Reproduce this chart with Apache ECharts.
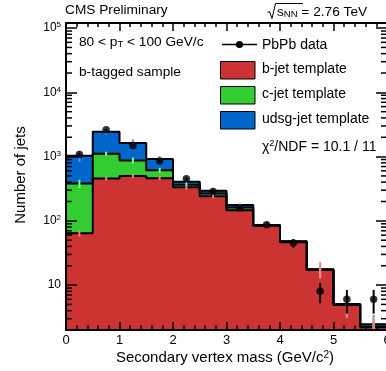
<!DOCTYPE html>
<html style="height: 100%">
<head>
    <meta charset="utf-8">
    <script src="https://cdn.jsdelivr.net/npm/echarts@6/dist/echarts.min.js"></script>
</head>
<body style="height: 100%; margin: 0; background: #fff">
    <div id="main" style="width: 386px; height: 371px"></div>
    <script type="text/javascript">
        // bins: lower edges, width 0.5 GeV/c^2
        var binLow = [0, 0.5, 1, 1.5, 2, 2.5, 3, 3.5, 4, 4.5, 5, 5.5];
        var binWidth = 0.5;

        // template contributions (stacked: b, then c, then udsg)
        var bJet    = [64, 456, 498, 462, 332, 242, 146, 84, 46.5, 17.2, 4.9, 2.2];
        var cJet    = [316, 654, 375, 149, 34, 24, 15, 1, 1, 0.3, 0.1, 0.05];
        var udsgJet = [653, 1327, 749, 303, 41, 29, 16, 0.8, 0.5, 0.2, 0.07, 0.2];

        // template uncertainties
        var bErr    = [7, 30, 35, 30, 25, 18, 9, 6, 3, 4.5, 1.8, 0.9];
        var cErr    = [55, 80, 95, 55, 22, 12, 6, 5, 3, 4.5, 1.8, 0.9];
        var udsgErr = [200, 250, 230, 100, 30, 18, 10, 5, 3, 5, 2, 1];

        // PbPb data
        var dataVal = [1080, 2618, 1490, 851, 450, 287, 157, 87, 45, 8, 6, 6];
        var dataErr = [33, 51, 39, 29, 21, 17, 12.5, 9.3, 6.7, 2.8, 2.4, 2.4];

        var yTickValues = [10, 100, 1000, 10000, 100000];
        var yTickLabels = ['{b|10}', '{b|10}{s|2}', '{b|10}{s|3}', '{b|10}{s|4}', '{b|10}{s|5}'];
        var xTickLabels = ['0', '1', '2', '3', '4', '5', '6'];

        var yMin = 2, yMax = 120000, xMin = 0, xMax = 6;
        var FONT = '"Liberation Sans", Arial, sans-serif';

        var cumB = bJet.slice();
        var cumC = bJet.map(function (v, i) { return v + cJet[i]; });
        var cumU = cumC.map(function (v, i) { return v + udsgJet[i]; });

        // minor ticks on the log axis (2..9 x decade)
        var minorTicks = [];
        [1, 10, 100, 1000, 10000].forEach(function (d) {
            for (var k = 2; k <= 9; k++) {
                var v = k * d;
                if (v > yMin && v < yMax) minorTicks.push([0, v]);
            }
        });

        var myChart = echarts.init(document.getElementById('main'));

        function rectData(top) {
            return binLow.map(function (x, i) { return [x, x + binWidth, top[i]]; });
        }
        function stepData(top) {
            var d = binLow.map(function (x, i) { return [x, top[i]]; });
            d.push([xMax, top[top.length - 1]]);
            return d;
        }
        function errData(top, err) {
            return binLow.map(function (x, i) { return [x + binWidth / 2, top[i], err[i]]; });
        }

        function histRect(color) {
            return function (params, api) {
                var p0 = api.coord([api.value(0), api.value(2)]);
                var p1 = api.coord([api.value(1), yMin]);
                return {
                    type: 'rect',
                    shape: { x: p0[0], y: p0[1], width: p1[0] - p0[0], height: p1[1] - p0[1] },
                    style: { fill: color, stroke: color, lineWidth: 1 }
                };
            };
        }
        function errBar(color, width) {
            return function (params, api) {
                var x = api.value(0), v = api.value(1), e = api.value(2);
                var lo = api.coord([x, Math.max(v - e, yMin)]);
                var hi = api.coord([x, v + e]);
                return {
                    type: 'line',
                    shape: { x1: lo[0], y1: lo[1], x2: hi[0], y2: hi[1] },
                    style: { stroke: color, lineWidth: width }
                };
            };
        }
        function stepLine(top) {
            return {
                type: 'line', step: 'end', data: stepData(top), symbol: 'none', z: 3,
                lineStyle: { color: '#000', width: 2 }, silent: true
            };
        }

        var axisCommon = {
            z: 10,
            axisLine: { show: true, onZero: false, lineStyle: { color: '#000', width: 2 } },
            splitLine: { show: false },
            minorSplitLine: { show: false }
        };

        var option = {
            animation: false,
            backgroundColor: '#fff',
            grid: { left: 66, right: -1, top: 23, bottom: 41, containLabel: false, outerBoundsMode: 'none' },
            xAxis: [
                Object.assign({}, axisCommon, {
                    type: 'value', min: xMin, max: xMax, interval: 1, position: 'bottom',
                    axisTick: { show: true, inside: true, length: 8, lineStyle: { color: '#000', width: 1.5 } },
                    minorTick: { show: true, splitNumber: 5, length: 4.5, lineStyle: { color: '#000', width: 1.5 } },
                    axisLabel: {
                        margin: 4, fontSize: 13, color: '#000', fontFamily: FONT,
                        formatter: function (v) { return xTickLabels[Math.round(v)]; }
                    }
                }),
                Object.assign({}, axisCommon, {
                    type: 'value', min: xMin, max: xMax, interval: 1, position: 'top',
                    axisTick: { show: true, inside: true, length: 8, lineStyle: { color: '#000', width: 1.5 } },
                    minorTick: { show: true, splitNumber: 5, length: 4, lineStyle: { color: '#000', width: 1.5 } },
                    axisLabel: { show: false }
                })
            ],
            yAxis: [
                Object.assign({}, axisCommon, {
                    type: 'log', logBase: 10, min: yMin, max: yMax, position: 'left',
                    axisTick: { show: true, inside: true, length: 11, lineStyle: { color: '#000', width: 1.5 } },
                    axisLabel: {
                        margin: 5, color: '#000', fontFamily: FONT,
                        showMinLabel: false, showMaxLabel: false,
                        formatter: function (v) {
                            for (var i = 0; i < yTickValues.length; i++) {
                                if (Math.abs(Math.log10(v) - Math.log10(yTickValues[i])) < 1e-6) return yTickLabels[i];
                            }
                            return '';
                        },
                        rich: {
                            b: { fontSize: 12, lineHeight: 14, fontFamily: FONT, color: '#000' },
                            s: { fontSize: 8, lineHeight: 7, verticalAlign: 'top', fontFamily: FONT, color: '#000' }
                        }
                    }
                }),
                Object.assign({}, axisCommon, {
                    type: 'log', logBase: 10, min: yMin, max: yMax, position: 'right',
                    axisTick: { show: true, inside: true, length: 11, lineStyle: { color: '#000', width: 1.5 } },
                    axisLabel: { show: false }
                })
            ],
            series: [
                { type: 'custom', name: 'udsg-jet template', renderItem: histRect('#0066cc'), data: rectData(cumU), z: 2, silent: true },
                { type: 'custom', name: 'c-jet template', renderItem: histRect('#33cc33'), data: rectData(cumC), z: 2, silent: true },
                { type: 'custom', name: 'b-jet template', renderItem: histRect('#cc3333'), data: rectData(cumB), z: 2, silent: true },
                stepLine(cumB),
                stepLine(cumC),
                stepLine(cumU),
                { type: 'custom', renderItem: errBar('#7f7fff', 2), data: errData(cumU, udsgErr), z: 4, silent: true },
                { type: 'custom', renderItem: errBar('#80ff80', 2), data: errData(cumC, cErr), z: 4, silent: true },
                { type: 'custom', renderItem: errBar('#ff7f7f', 2), data: errData(cumB, bErr), z: 4, silent: true },
                {
                    type: 'custom', renderItem: errBar('#000', 2), z: 5, silent: true,
                    data: binLow.map(function (x, i) { return [x + binWidth / 2, dataVal[i], dataErr[i]]; })
                },
                {
                    type: 'scatter', name: 'PbPb data', symbol: 'circle', symbolSize: 7.5, z: 6,
                    itemStyle: { color: '#000' },
                    data: binLow.map(function (x, i) { return [x + binWidth / 2, dataVal[i]]; })
                },
                {
                    type: 'custom', z: 11, silent: true, data: minorTicks,
                    renderItem: function (params, api) {
                        var v = api.value(1);
                        var pl = api.coord([xMin, v]);
                        var pr = api.coord([xMax, v]);
                        return {
                            type: 'group',
                            children: [
                                { type: 'line', shape: { x1: pl[0], y1: pl[1], x2: pl[0] + 6, y2: pl[1] }, style: { stroke: '#000', lineWidth: 1.5 } },
                                { type: 'line', shape: { x1: pr[0], y1: pr[1], x2: pr[0] - 6, y2: pr[1] }, style: { stroke: '#000', lineWidth: 1.5 } }
                            ]
                        };
                    }
                }
            ],
            graphic: [
                { type: 'text', x: 65, y: 10, z: 20, style: { text: 'CMS Preliminary', font: '13.7px ' + FONT, fill: '#000', textAlign: 'left', textVerticalAlign: 'middle' } },
                // sqrt sign
                { type: 'polyline', z: 20, shape: { points: [[267.5, 12.5], [269.5, 11.5], [272, 18.5], [275.5, 3.5], [303, 3.5]] }, style: { stroke: '#000', lineWidth: 1, fill: null } },
                {
                    type: 'text', x: 277, y: 12, z: 20,
                    style: {
                        text: '{n|s}{sub|NN}{n| = 2.76 TeV}', textAlign: 'left', textVerticalAlign: 'middle',
                        rich: {
                            n: { fontSize: 13.7, fontFamily: FONT, fill: '#000', lineHeight: 14 },
                            sub: { fontSize: 9.5, fontFamily: FONT, fill: '#000', lineHeight: 8, verticalAlign: 'bottom' }
                        }
                    }
                },
                {
                    type: 'text', x: 79, y: 42, z: 20,
                    style: {
                        text: '{n|80 < p}{sub|T}{n| < 100 GeV/c}', textAlign: 'left', textVerticalAlign: 'middle',
                        rich: {
                            n: { fontSize: 13.7, fontFamily: FONT, fill: '#000', lineHeight: 14 },
                            sub: { fontSize: 9.5, fontFamily: FONT, fill: '#000', lineHeight: 8, verticalAlign: 'bottom' }
                        }
                    }
                },
                { type: 'text', x: 79, y: 72, z: 20, style: { text: 'b-tagged sample', font: '13.7px ' + FONT, fill: '#000', textAlign: 'left', textVerticalAlign: 'middle' } },
                // legend
                { type: 'line', z: 20, shape: { x1: 222, y1: 44.5, x2: 257, y2: 44.5 }, style: { stroke: '#000', lineWidth: 1.5 } },
                { type: 'circle', z: 20, shape: { cx: 239.5, cy: 44.5, r: 3.6 }, style: { fill: '#000' } },
                { type: 'text', x: 262, y: 45, z: 20, style: { text: 'PbPb data', font: '14px ' + FONT, fill: '#000', textVerticalAlign: 'middle' } },
                { type: 'rect', z: 20, shape: { x: 220.5, y: 61.5, width: 34.5, height: 17.5 }, style: { fill: '#cc3333', stroke: '#000', lineWidth: 1 } },
                { type: 'text', x: 262, y: 69.5, z: 20, style: { text: 'b-jet template', font: '14px ' + FONT, fill: '#000', textVerticalAlign: 'middle' } },
                { type: 'rect', z: 20, shape: { x: 220.5, y: 86.5, width: 34.5, height: 17.5 }, style: { fill: '#33cc33', stroke: '#000', lineWidth: 1 } },
                { type: 'text', x: 262, y: 94.5, z: 20, style: { text: 'c-jet template', font: '14px ' + FONT, fill: '#000', textVerticalAlign: 'middle' } },
                { type: 'rect', z: 20, shape: { x: 220.5, y: 111.5, width: 34.5, height: 17.5 }, style: { fill: '#0066cc', stroke: '#000', lineWidth: 1 } },
                { type: 'text', x: 262, y: 119.5, z: 20, style: { text: 'udsg-jet template', font: '14px ' + FONT, fill: '#000', textVerticalAlign: 'middle' } },
                {
                    type: 'text', x: 262, y: 147, z: 20,
                    style: {
                        text: '{n|χ}{sup|2}{n|/NDF = 10.1 / 11}', textAlign: 'left', textVerticalAlign: 'middle',
                        rich: {
                            n: { fontSize: 14, fontFamily: FONT, fill: '#000', lineHeight: 15 },
                            sup: { fontSize: 9, fontFamily: FONT, fill: '#000', lineHeight: 8, verticalAlign: 'top' }
                        }
                    }
                },
                // axis titles
                {
                    type: 'text', x: 225, y: 358, z: 20,
                    style: {
                        text: '{n|Secondary vertex mass (GeV/c}{sup|2}{n|)}', textAlign: 'center', textVerticalAlign: 'middle',
                        rich: {
                            n: { fontSize: 15, fontFamily: FONT, fill: '#000', lineHeight: 16 },
                            sup: { fontSize: 10, fontFamily: FONT, fill: '#000', lineHeight: 9, verticalAlign: 'top' }
                        }
                    }
                },
                { type: 'text', x: 21, y: 175, rotation: Math.PI / 2, z: 20, style: { text: 'Number of jets', font: '15px ' + FONT, fill: '#000', textAlign: 'center', textVerticalAlign: 'middle' } }
            ]
        };

        myChart.setOption(option);
    </script>
</body>
</html>
